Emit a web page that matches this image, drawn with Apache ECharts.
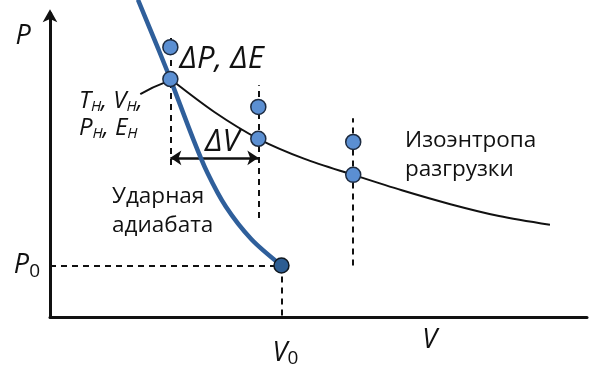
<!DOCTYPE html>
<html>
<head>
<meta charset="utf-8">
<script src="https://cdn.jsdelivr.net/npm/echarts@6/dist/echarts.min.js"></script>
<style>
  html, body { margin: 0; padding: 0; background: #fff; }
  #chart { width: 590px; height: 372px; }
</style>
</head>
<body>
<div id="chart"></div>
<script>
// Shock Hugoniot (ударная адиабата) in units of V0 and P0
const hugoniotV = [0.38, 0.47, 0.52, 0.62, 0.68, 0.76, 0.87, 1.00];
const hugoniotP = [6.16, 5.18, 4.62, 3.44, 2.80, 2.14, 1.51, 1.00];

// Release isentrope (изоэнтропа разгрузки) starting at the shocked state
const isentropeV = [0.52, 0.71, 0.90, 1.10, 1.31, 1.52, 1.73, 1.94, 2.16];
const isentropeP = [4.62, 3.98, 3.46, 3.07, 2.76, 2.46, 2.19, 1.96, 1.79];

// Stations on the isentrope and the perturbed (ΔP, ΔE) states above them
const stationV = [0.52, 0.90, 1.31];
const stationP = [4.62, 3.46, 2.76];
const perturbedP = [5.24, 4.08, 3.40];

// Vertical extent of the dashed guide through each station
const guideLowP = [2.95, 1.92, 1.00];
const guideHighP = [5.51, 4.50, 3.86];

// Initial state
const V0 = 1.0;
const P0 = 1.0;

// ΔV bracket between the first two stations
const deltaVLevel = 3.09;

// Axis ranges
const vMax = 2.32;
const pMax = 5.9;

// ---- layout (pixels per unit and origin of the plot) ----
const pxPerV = 232, pxPerP = 51.5;
const originX = 50, originY = 317;

const ink = '#111111';
const fontFamily = '"Open Sans", "DejaVu Sans", sans-serif';
const zip = (a, b) => a.map((v, i) => [v, b[i]]);

const italic = { fontFamily, fontStyle: 'italic', color: ink };
const richStyles = {
  i: Object.assign({ fontSize: 27, lineHeight: 32 }, italic),
  n: { fontFamily, fontSize: 19, color: ink, lineHeight: 32, padding: [12, 0, 0, 0] },
  big: Object.assign({ fontSize: 31, lineHeight: 36 }, italic),
  ru: { fontFamily, fontSize: 22.5, color: ink, lineHeight: 29 },
  hi: Object.assign({ fontSize: 24, lineHeight: 27 }, italic),
  hs: Object.assign({ fontSize: 15, lineHeight: 27, padding: [10, 0, 0, 0] }, italic)
};

// Text annotations, anchored in data coordinates
const annotations = [
  { value: [-0.116, 5.45], text: '{i|P}', align: 'center' },
  { value: [1.64, -0.45], text: '{i|V}', align: 'center' },
  { value: [0.56, 5.0], text: '{big|ΔP, ΔE}', align: 'left' },
  { value: [0.67, 3.4], text: '{big|ΔV}', align: 'left' },
  { value: [0.125, 3.92], text: '{hi|T}{hs|H}{hi|, V}{hs|H}{hi|,}\n{hi|P}{hs|H}{hi|, E}{hs|H}', align: 'left' },
  { value: [0.268, 2.06], text: '{ru|Ударная}\n{ru|адиабата}', align: 'left' },
  { value: [1.534, 3.15], text: '{ru|Изоэнтропа}\n{ru|разгрузки}', align: 'left' }
];

const dashed = { type: [6, 5], width: 2, color: ink, opacity: 1 };
const guideLines = stationV.map((v, i) => ({ coords: [[v, guideLowP[i]], [v, guideHighP[i]]] }));
guideLines.push({ coords: [[0, P0], [V0, P0]] });
guideLines.push({ coords: [[V0, P0], [V0, 0]] });

const chart = echarts.init(document.getElementById('chart'), null, { renderer: 'canvas' });
chart.setOption({
  animation: false,
  backgroundColor: '#fff',
  grid: {
    left: originX,
    top: originY - pMax * pxPerP,
    width: vMax * pxPerV,
    height: pMax * pxPerP,
    containLabel: false
  },
  xAxis: {
    type: 'value', min: 0, max: vMax, interval: 1,
    splitLine: { show: false },
    axisTick: { show: false },
    axisLine: { show: true, onZero: false, lineStyle: { color: ink, width: 3 } },
    axisLabel: {
      margin: 20,
      padding: [0, 0, 0, 8],
      formatter: v => (v === V0 ? '{i|V}{n|0}' : ''),
      rich: richStyles
    }
  },
  yAxis: {
    type: 'value', min: 0, max: pMax, interval: 1,
    splitLine: { show: false },
    axisTick: { show: false },
    axisLine: {
      show: true, onZero: false,
      symbol: ['none', 'arrow'], symbolSize: [11, 13], symbolOffset: [0, 4],
      lineStyle: { color: ink, width: 3 }
    },
    axisLabel: {
      margin: 10,
      formatter: v => (v === P0 ? '{i|P}{n|0}' : ''),
      rich: richStyles
    }
  },
  series: [
    {
      name: 'guides', type: 'lines', coordinateSystem: 'cartesian2d', z: 1,
      lineStyle: dashed, symbol: 'none', silent: true,
      data: guideLines
    },
    {
      name: 'ΔV', type: 'lines', coordinateSystem: 'cartesian2d', z: 2,
      lineStyle: { color: ink, width: 2.5, opacity: 1 },
      symbol: ['arrow', 'arrow'], symbolSize: 11,
      data: [{ coords: [[stationV[0], deltaVLevel], [stationV[1], deltaVLevel]] }]
    },
    {
      name: 'leader', type: 'lines', coordinateSystem: 'cartesian2d', z: 2,
      lineStyle: { color: ink, width: 2, curveness: 0.04, opacity: 1 },
      symbol: 'none',
      data: [{ coords: [[0.39, 4.33], [stationV[0] - 0.02, stationP[0] - 0.06]] }]
    },
    {
      name: 'Изоэнтропа разгрузки', type: 'line', z: 3,
      data: zip(isentropeV, isentropeP),
      smooth: 0.3, showSymbol: false, clip: false,
      lineStyle: { color: ink, width: 2 }
    },
    {
      name: 'Ударная адиабата', type: 'line', z: 4,
      data: zip(hugoniotV, hugoniotP),
      smooth: 0.3, showSymbol: false, clip: false,
      lineStyle: { color: '#2f5f9b', width: 4.5 }
    },
    {
      name: 'states', type: 'scatter', z: 5, clip: false,
      symbolSize: 15,
      itemStyle: { color: '#5b8fd2', borderColor: '#1d2b40', borderWidth: 1.5, opacity: 1 },
      data: zip(stationV, stationP).concat(zip(stationV, perturbedP))
    },
    {
      name: 'initial', type: 'scatter', z: 5, clip: false,
      symbolSize: 15,
      itemStyle: { color: '#2d5d92', borderColor: '#101820', borderWidth: 1.5, opacity: 1 },
      data: [[V0, P0]]
    },
    {
      name: 'annotations', type: 'scatter', z: 6, clip: false, silent: true,
      symbolSize: 0,
      itemStyle: { opacity: 1 },
      data: annotations.map(a => ({
        value: a.value,
        label: {
          show: true, position: 'inside', formatter: a.text,
          color: ink, opacity: 1, textBorderWidth: 0,
          align: a.align, verticalAlign: 'middle', rich: richStyles
        }
      }))
    }
  ]
});
</script>
</body>
</html>
